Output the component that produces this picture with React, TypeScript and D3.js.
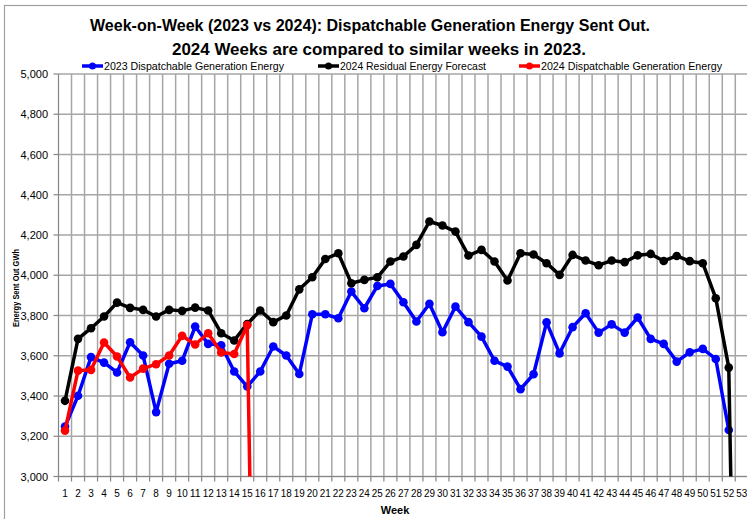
import * as d3 from "d3";

// Week categories on the x axis
const weeks: number[] = d3.range(1, 54);

// 2023 Dispatchable Generation Energy (GWh), weeks 1..52
const dispatch2023: number[] = [
    3248, 3401, 3593, 3566, 3517, 3667, 3601, 3320, 3560, 3575,
    3745, 3659, 3652, 3522, 3447, 3522, 3646, 3601, 3509, 3806,
    3806, 3786, 3919, 3836, 3947, 3957, 3866, 3770, 3858, 3717,
    3844, 3767, 3695, 3575, 3546, 3434, 3508, 3766, 3612, 3742,
    3811, 3715, 3756, 3715, 3790, 3684, 3659, 3571, 3617, 3634,
    3584, 3231,
];

// 2024 Residual Energy Forecast (GWh), weeks 1..53
const residual2024: number[] = [
    3376, 3684, 3737, 3795, 3864, 3838, 3828, 3795, 3828, 3823,
    3839, 3825, 3712, 3676, 3758, 3825, 3767, 3800, 3930, 3990,
    4081, 4109, 3960, 3977, 3990, 4068, 4093, 4151, 4267, 4247,
    4217, 4098, 4126, 4068, 3974, 4109, 4103, 4060, 4002, 4101,
    4073, 4050, 4073, 4065, 4099, 4106, 4071, 4096, 4070, 4060,
    3886, 3541, 0,
];

// 2024 Dispatchable Generation Energy (GWh), weeks 1..16
const dispatch2024: number[] = [
    3228, 3526, 3530, 3666, 3596, 3492, 3536, 3558, 3601, 3699,
    3656, 3712, 3616, 3609, 3752, 0,
];

const yTicks: number[] = [3000, 3200, 3400, 3600, 3800, 4000, 4200, 4400, 4600, 4800, 5000];

const seriesList = [
    { name: "2023 Dispatchable Generation Energy", values: dispatch2023, color: "#0000ff", lx: 82, tw: 180 },
    { name: "2024 Residual Energy Forecast", values: residual2024, color: "#000000", lx: 318, tw: 146 },
    { name: "2024 Dispatchable Generation Energy", values: dispatch2024, color: "#ff0000", lx: 519, tw: 181 },
];

const W = 747;
const H = 519;
const plot = { left: 58.5, right: 748.3, top: 74, bottom: 476.5 };
const font = "'Liberation Sans Narrow', 'Liberation Sans', Arial, sans-serif";

export default function App() {
    const x = d3.scaleBand<number>()
        .domain(weeks)
        .range([plot.left, plot.right])
        .padding(0);
    const y = d3.scaleLinear()
        .domain([3000, 5000])
        .range([plot.bottom, plot.top]);

    const cx = (i: number) => x(weeks[i])! + x.bandwidth() / 2;

    const line = d3.line<number>()
        .x((_, i) => cx(i))
        .y(d => y(d));

    const bounds = weeks.map(w => x(w)!).concat([plot.right]);

    return (
        <svg width={W} height={H} style={{ position: "absolute", left: 0, top: 0, background: "#fff" }}
            fontFamily={font}>
            <defs>
                <clipPath id="plotClip">
                    <rect x={plot.left} y={plot.top - 6} width={plot.right - plot.left} height={plot.bottom - plot.top + 6} />
                </clipPath>
            </defs>
            <rect x={4.5} y={5.5} width={900} height={700} fill="#fff" stroke="#a0a0a0" strokeWidth={1.2} />

            {/* title */}
            <text x={370} y={31} textAnchor="middle" fontSize={17} fontWeight="bold"
                textLength={560} lengthAdjust="spacingAndGlyphs">
                Week-on-Week (2023 vs 2024): Dispatchable Generation Energy Sent Out.
            </text>
            <text x={379} y={55} textAnchor="middle" fontSize={17} fontWeight="bold"
                textLength={414} lengthAdjust="spacingAndGlyphs">
                2024 Weeks are compared to similar weeks in 2023.
            </text>

            {/* legend */}
            {seriesList.map(s => (
                <g key={s.name}>
                    <line x1={s.lx} x2={s.lx + 21} y1={66} y2={66} stroke={s.color} strokeWidth={3.5} />
                    <circle cx={s.lx + 10.5} cy={66} r={3.5} fill={s.color} />
                    <text x={s.lx + 22} y={70} fontSize={11} textLength={s.tw} lengthAdjust="spacingAndGlyphs">
                        {s.name}
                    </text>
                </g>
            ))}

            {/* gridlines */}
            {yTicks.map(t => (
                <line key={"h" + t} x1={plot.left} x2={plot.right} y1={y(t)} y2={y(t)}
                    stroke="#a6a6a6" strokeWidth={1.5} />
            ))}
            {bounds.slice(1).map((b, i) => (
                <line key={"v" + i} x1={b} x2={b} y1={plot.top} y2={plot.bottom}
                    stroke="#a6a6a6" strokeWidth={1.5} />
            ))}

            {/* axes */}
            <line x1={plot.left} x2={plot.left} y1={plot.top} y2={plot.bottom} stroke="#868686" strokeWidth={1.2} />
            <line x1={plot.left} x2={plot.right} y1={plot.bottom} y2={plot.bottom} stroke="#868686" strokeWidth={1.2} />
            {yTicks.map(t => (
                <g key={"yt" + t}>
                    <line x1={plot.left - 5} x2={plot.left} y1={y(t)} y2={y(t)} stroke="#868686" strokeWidth={1.2} />
                    <text x={48} y={y(t) + 4} textAnchor="end" fontSize={11}>{d3.format(",")(t)}</text>
                </g>
            ))}
            {bounds.map((b, i) => (
                <line key={"xt" + i} x1={b} x2={b} y1={plot.bottom} y2={plot.bottom + 5} stroke="#868686" strokeWidth={1.2} />
            ))}
            {weeks.map((w, i) => (
                <text key={"xl" + w} x={cx(i)} y={497} textAnchor="middle" fontSize={10}
                    textLength={w >= 10 ? 11 : undefined} lengthAdjust="spacingAndGlyphs">{w}</text>
            ))}
            <text x={395} y={514} textAnchor="middle" fontSize={11} fontWeight="bold">Week</text>
            <text transform={`translate(18.5,288) rotate(-90)`} textAnchor="middle" fontSize={9.5} fontWeight="bold"
                textLength={78} lengthAdjust="spacingAndGlyphs">
                Energy Sent Out GWh
            </text>

            {/* series */}
            <g clipPath="url(#plotClip)">
                {seriesList.map(s => (
                    <g key={"s" + s.name}>
                        <path d={line(s.values)!} fill="none" stroke={s.color} strokeWidth={3.5} strokeLinejoin="round" />
                        {s.values.map((v, i) => (
                            <circle key={i} cx={cx(i)} cy={y(v)} r={4.3} fill={s.color} />
                        ))}
                    </g>
                ))}
            </g>
        </svg>
    );
}
